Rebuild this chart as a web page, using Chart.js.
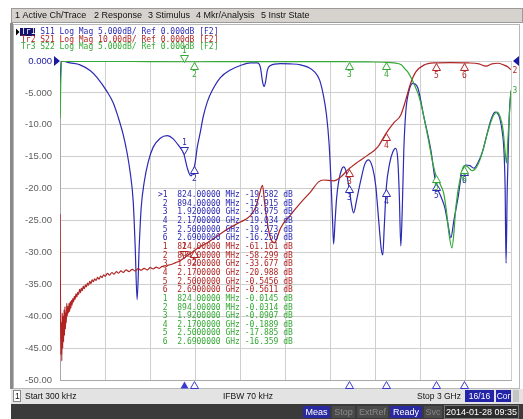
<!DOCTYPE html>
<html>
<head>
<meta charset="utf-8">
<script src="https://cdn.jsdelivr.net/npm/chart.js@4.4.1/dist/chart.umd.min.js"></script>
<style>
  html, body { margin: 0; padding: 0; background: #fff; overflow: hidden; }
  canvas { display: block; }
</style>
</head>
<body>
<canvas id="vna" width="523" height="419"></canvas>
<script>
// trace data, GHz / dB
const s11Freq = [0.0003,0.01,0.067,0.133,0.2,0.247,0.313,0.353,0.387,0.42,0.447,0.467,0.487,0.5,0.513,0.527,0.54,0.56,0.587,0.62,0.667,0.713,0.753,0.787,0.824,0.847,0.87,0.887,0.9,0.913,0.933,0.953,0.98,1.013,1.067,1.133,1.2,1.267,1.313,1.333,1.347,1.357,1.367,1.38,1.4,1.467,1.533,1.6,1.653,1.693,1.727,1.753,1.773,1.79,1.803,1.813,1.82,1.83,1.84,1.853,1.873,1.887,1.903,1.92,1.937,1.953,1.973,2.0,2.027,2.053,2.08,2.1,2.12,2.137,2.147,2.157,2.17,2.193,2.213,2.233,2.247,2.257,2.267,2.277,2.287,2.3,2.32,2.347,2.38,2.42,2.467,2.5,2.533,2.56,2.58,2.6,2.62,2.647,2.673,2.7,2.727,2.753,2.787,2.813,2.84,2.867,2.893,2.92,2.94,2.953,2.961,2.967,2.975,2.987,2.993,3.0];
const s11Db = [-3.5,0,-0.3,-0.6,-1.5,-2.6,-4.8,-6.5,-8.8,-11.5,-14.5,-17.5,-22,-29,-37.4,-29,-23,-19,-15.8,-13.5,-12.1,-11.7,-12.2,-13.2,-14.6,-16.8,-18,-17.2,-15.8,-13.5,-11.2,-8.7,-6.4,-4.6,-2.6,-1.4,-0.7,-0.3,-0.3,-1.0,-3.2,-4.0,-3.3,-1.4,-0.7,-0.4,-0.45,-0.6,-1.0,-1.7,-3.0,-5.5,-8.5,-13,-19,-25,-28.7,-25,-21.5,-19,-17,-16.6,-17.3,-19.5,-22.2,-23.8,-21.8,-18.8,-16.2,-15.5,-16.8,-19.5,-25,-29.5,-30.4,-26,-20,-16,-14.3,-13.7,-15.5,-21,-29,-23,-14,-8,-4.8,-3.5,-4.2,-8.7,-14,-19.2,-21.2,-23,-25.5,-27.7,-25,-21.5,-17.5,-16.3,-16.4,-16.8,-15.6,-14,-11.5,-9.2,-8.0,-8.6,-10.8,-14,-20,-31.7,-20,-9.5,-6.5,-4.8];

const s21Freq = [0.0003,0.003,0.006,0.009,0.012,0.015,0.018,0.021,0.024,0.027,0.03,0.033,0.036,0.039,0.042,0.045,0.048,0.052,0.056,0.06,0.064,0.068,0.072,0.076,0.08,0.085,0.09,0.095,0.1,0.106,0.112,0.118,0.124,0.13,0.136,0.142,0.148,0.155,0.162,0.169,0.176,0.183,0.19,0.198,0.206,0.214,0.222,0.23,0.24,0.25,0.26,0.27,0.28,0.29,0.3,0.315,0.33,0.345,0.36,0.375,0.39,0.405,0.42,0.44,0.46,0.48,0.5,0.52,0.54,0.56,0.58,0.6,0.62,0.64,0.66,0.68,0.7,0.72,0.74,0.77,0.8,0.824,0.86,0.894,0.94,0.98,1.03,1.087,1.14,1.2,1.267,1.3,1.32,1.347,1.36,1.38,1.4,1.427,1.447,1.467,1.533,1.6,1.667,1.72,1.753,1.82,1.867,1.913,1.98,2.047,2.113,2.17,2.22,2.267,2.3,2.333,2.367,2.42,2.487,2.6,2.713,2.787,2.833,2.873,2.913,2.953,2.98,3.0];
const s21Db = [-48,-74,-92,-82,-94,-79,-90,-80,-88,-78,-86,-77,-84,-79,-82,-76,-80,-77,-79,-76,-78.5,-75.5,-77.5,-75,-76.5,-74.5,-75.5,-73.8,-74.8,-73,-74,-72.5,-73.2,-71.6,-72.6,-71.2,-72,-70.6,-71.4,-70.2,-70.8,-69.6,-70.3,-69.1,-69.8,-68.6,-69.2,-68.3,-68.8,-67.8,-68.4,-67.4,-67.9,-67,-67.5,-66.6,-67.1,-66.3,-66.8,-66,-66.5,-65.8,-66.3,-65.5,-66,-65.3,-65.8,-65.1,-65.6,-65,-65.5,-64.8,-65.2,-64.6,-65,-64.4,-64.6,-64,-63.8,-63.2,-62.6,-61.8,-60.6,-59.4,-58,-57,-55.4,-53.5,-52,-50.5,-48.5,-46,-43,-39,-44,-51,-55.5,-57,-55,-52.4,-48.3,-44.5,-41,-37.9,-37.3,-37.6,-36.4,-34.2,-31.7,-29.5,-27,-22.6,-19.4,-16.9,-12.2,-6.9,-3.4,-1.3,-0.6,-0.5,-0.6,-0.9,-1.6,-0.9,-0.7,-1.3,-1.9,-2.8];

const s22Freq = [0.0003,0.01,0.3,0.6,0.9,1.2,1.5,1.8,1.92,2.05,2.17,2.22,2.27,2.293,2.313,2.333,2.353,2.38,2.4,2.427,2.447,2.48,2.5,2.513,2.533,2.553,2.573,2.587,2.607,2.62,2.633,2.667,2.69,2.713,2.74,2.767,2.793,2.813,2.847,2.88,2.907,2.927,2.947,2.96,2.97,2.98,2.993,3.0];
const s22Db = [-9,-0.05,-0.05,-0.1,-0.12,-0.1,-0.1,-0.1,-0.12,-0.15,-0.2,-0.3,-0.6,-1.2,-1.7,-2.5,-3.5,-5,-6.6,-9.5,-11.9,-16,-17.9,-18.6,-19.5,-20.8,-24,-27,-29.3,-27,-22.9,-17.8,-16.4,-16.6,-17.2,-16.8,-15.5,-14,-11,-8.7,-8,-8.7,-10.8,-14,-16,-12,-7,-4.6];

// markers
const markerFreq = [0.824, 0.894, 1.92, 2.17, 2.5, 2.69];
const markerFreqText = ['824.00000 MHz', '894.00000 MHz', '1.9200000 GHz', '2.1700000 GHz', '2.5000000 GHz', '2.6900000 GHz'];
const s11Markers = [-19.582, -15.915, -18.975, -19.034, -19.273, -16.250];
const s21Markers = [-61.161, -58.299, -33.677, -20.988, -0.5456, -0.5611];
const s22Markers = [-0.0145, -0.0314, -0.0907, -0.1889, -17.885, -16.359];

// header / status text
const traceIds = ['Tr1', 'Tr2', 'Tr3'];
const traceParams = ['S11', 'S21', 'S22'];
const traceScales = ['5.000dB/', '10.00dB/', '5.000dB/'];
const menuItems = ['1 Active Ch/Trace', '2 Response', '3 Stimulus', '4 Mkr/Analysis', '5 Instr State'];

const BLUE = '#2a2ab4';
const RED = '#b02424';
const GREEN = '#34a834';
const traceColors = [BLUE, RED, GREEN];

const pts = (xs, ys) => xs.map((x, i) => ({ x: x, y: ys[i] }));

function traceAt(xs, ys, f) {
  for (let i = 1; i < xs.length; i++) {
    if (xs[i] >= f) {
      const t = (f - xs[i - 1]) / (xs[i] - xs[i - 1]);
      return ys[i - 1] + t * (ys[i] - ys[i - 1]);
    }
  }
  return ys[ys.length - 1];
}

function fmtVal(v) {
  return Math.abs(v) >= 10 ? v.toFixed(3) : v.toFixed(4);
}

function tri(ctx, x, y, up, filled, color) {
  ctx.beginPath();
  if (up) { ctx.moveTo(x, y); ctx.lineTo(x - 4, y + 7); ctx.lineTo(x + 4, y + 7); }
  else { ctx.moveTo(x, y); ctx.lineTo(x - 4, y - 7); ctx.lineTo(x + 4, y - 7); }
  ctx.closePath();
  if (filled) { ctx.fillStyle = color; ctx.fill(); }
  else { ctx.fillStyle = '#fff'; ctx.fill(); ctx.strokeStyle = color; ctx.lineWidth = 1; ctx.stroke(); }
}

const chromePlugin = {
  id: 'chrome',
  beforeDraw(chart) {
    const ctx = chart.ctx;
    ctx.save();
    ctx.fillStyle = '#fff';
    ctx.fillRect(0, 0, 523, 419);
    // menu bar
    ctx.fillStyle = '#d6d3ce';
    ctx.fillRect(11, 8, 512, 15);
    ctx.strokeStyle = '#9a9a9a';
    ctx.strokeRect(11.5, 8.5, 511, 14);
    // left bar + frame
    ctx.fillStyle = '#8a8a8a';
    ctx.fillRect(10, 23, 3, 366);
    ctx.strokeStyle = '#b8b8b8';
    ctx.strokeRect(13.5, 24.5, 506, 364);
    // status row
    ctx.fillStyle = '#e3e3e3';
    ctx.fillRect(11, 389, 512, 15);
    // dark bar
    ctx.fillStyle = '#3a3a3a';
    ctx.fillRect(11, 404, 512, 15);
    ctx.restore();
  },
  afterDatasetsDraw(chart) {
    const ctx = chart.ctx;
    const xs = chart.scales.x, y = chart.scales.y, y2 = chart.scales.y2;
    const area = chart.chartArea;
    ctx.save();
    ctx.font = '8px "DejaVu Sans Mono"';
    ctx.textAlign = 'center';
    ctx.textBaseline = 'middle';
    const sets = [
      [s11Freq, s11Db, y, BLUE],
      [s21Freq, s21Db, y2, RED],
      [s22Freq, s22Db, y, GREEN]
    ];
    sets.forEach(([fx, fy, sc, col]) => {
      markerFreq.forEach((f, i) => {
        const px = Math.round(xs.getPixelForValue(f)) + 0.5;
        const py = Math.round(sc.getPixelForValue(traceAt(fx, fy, f))) + 0.5;
        const active = i === 0;
        tri(ctx, px, py, !active, false, col);
        ctx.fillStyle = col;
        ctx.fillText(String(i + 1), px, active ? py - 12 : py + 12);
      });
    });
    // marker readout table
    const rows = [[s11Markers, BLUE], [s21Markers, RED], [s22Markers, GREEN]];
    let r = 0;
    const tx = area.left + 98, ty = area.top + 134;
    ctx.textAlign = 'left';
    rows.forEach(([vals, col], k) => {
      vals.forEach((v, i) => {
        const head = (k === 0 && i === 0) ? '>' : ' ';
        const line = head + (i + 1) + '  ' + markerFreqText[i] + ' ' + fmtVal(v) + ' dB';
        ctx.fillStyle = col;
        ctx.fillText(line, tx, ty + r * 8.65);
        r++;
      });
    });
    // stimulus marker triangles under the grid
    markerFreq.forEach((f, i) => {
      const px = Math.round(xs.getPixelForValue(f)) + 0.5;
      tri(ctx, px, area.bottom + 1.5, true, i === 0, '#3a3ad0');
    });
    // reference position arrows
    const ry = y.getPixelForValue(0);
    ctx.fillStyle = '#1a1aa0';
    ctx.beginPath(); ctx.moveTo(area.left, ry); ctx.lineTo(area.left - 6, ry - 5); ctx.lineTo(area.left - 6, ry + 5); ctx.fill();
    ctx.beginPath(); ctx.moveTo(area.right + 2, ry); ctx.lineTo(area.right + 8, ry - 5); ctx.lineTo(area.right + 8, ry + 5); ctx.fill();
    ctx.fillStyle = RED;
    ctx.textAlign = 'center';
    ctx.fillText('2', area.right + 4, y2.getPixelForValue(s21Db[s21Db.length - 1]) + 1);
    ctx.fillStyle = GREEN;
    ctx.fillText('3', area.right + 4, y.getPixelForValue(s22Db[s22Db.length - 1]) + 1);
    ctx.restore();
  },
  afterDraw(chart) {
    const ctx = chart.ctx;
    ctx.save();
    ctx.textBaseline = 'middle';
    // menu
    ctx.font = '9px "Liberation Sans"';
    ctx.fillStyle = '#111';
    const menuX = [15, 94, 148, 196, 261];
    menuItems.forEach((m, i) => ctx.fillText(m, menuX[i], 15.5));
    // trace header lines
    ctx.font = '8px "DejaVu Sans Mono"';
    traceIds.forEach((id, i) => {
      const yy = 32 + i * 7.6;
      if (i === 0) {
        ctx.fillStyle = '#000';
        ctx.beginPath(); ctx.moveTo(16, yy - 3.5); ctx.lineTo(19.5, yy); ctx.lineTo(16, yy + 3.5); ctx.fill();
        ctx.fillStyle = '#141470';
        ctx.fillRect(20, yy - 4, 15, 8);
        ctx.fillStyle = '#fff';
      } else {
        ctx.fillStyle = traceColors[i];
      }
      ctx.fillText(id, 21, yy);
      ctx.fillStyle = traceColors[i];
      ctx.fillText(' ' + traceParams[i] + ' Log Mag ' + traceScales[i] + ' Ref 0.000dB [F2]', 21 + 3 * 4.82, yy);
    });
    // status row
    ctx.font = '8.5px "Liberation Sans"';
    ctx.fillStyle = '#fff';
    ctx.fillRect(13, 390, 8, 12);
    ctx.strokeStyle = '#888';
    ctx.strokeRect(13.5, 390.5, 7, 11);
    ctx.fillStyle = '#111';
    ctx.fillText('1', 15, 396.5);
    ctx.fillText('Start 300 kHz', 25, 396.5);
    ctx.fillText('IFBW 70 kHz', 223, 396.5);
    ctx.textAlign = 'right';
    ctx.fillText('Stop 3 GHz', 461, 396.5);
    ctx.fillStyle = '#2424a8';
    ctx.fillRect(465, 390, 29, 12);
    ctx.fillRect(496, 390, 15, 12);
    ctx.fillStyle = '#c4c4c4';
    ctx.fillRect(513, 390, 6, 12);
    ctx.fillStyle = '#fff';
    ctx.textAlign = 'center';
    ctx.fillText('16/16', 479.5, 396.5);
    ctx.fillText('Cor', 503.5, 396.5);
    // bottom status bar
    ctx.font = '9px "Liberation Sans"';
    const boxes = [
      ['Meas', 303, 27, true], ['Stop', 332, 23, false], ['ExtRef', 357, 31, false],
      ['Ready', 390, 32, true], ['Svc', 424, 18, false]
    ];
    boxes.forEach(([t, bx, bw, on]) => {
      ctx.fillStyle = on ? '#2a2aa0' : '#4a4a4a';
      ctx.fillRect(bx, 406, bw, 12);
      ctx.fillStyle = on ? '#fff' : '#8a8a8a';
      ctx.fillText(t, bx + bw / 2, 412.5);
    });
    ctx.fillStyle = '#2c2c2c';
    ctx.fillRect(444, 405, 75, 14);
    ctx.strokeStyle = '#777';
    ctx.strokeRect(444.5, 405.5, 74, 13);
    ctx.fillStyle = '#fff';
    ctx.fillText('2014-01-28 09:35', 481.5, 412.5);
    ctx.restore();
  }
};

const lineSet = (label, data, color, axis) => ({
  label: label,
  data: data,
  yAxisID: axis,
  borderColor: color,
  borderWidth: 1.2,
  pointRadius: 0,
  fill: false,
  cubicInterpolationMode: 'monotone'
});

const config = {
  type: 'line',
  data: {
    datasets: [
      lineSet('S22', pts(s22Freq, s22Db), GREEN, 'y'),
      lineSet('S21', pts(s21Freq, s21Db), RED, 'y2'),
      lineSet('S11', pts(s11Freq, s11Db), BLUE, 'y')
    ]
  },
  options: {
    responsive: false,
    animation: false,
    events: [],
    layout: { padding: { left: 12, top: 61, right: 12, bottom: 39 } },
    plugins: { legend: { display: false }, tooltip: { enabled: false } },
    scales: {
      x: {
        type: 'linear',
        min: 0,
        max: 3,
        ticks: { display: false, stepSize: 0.3 },
        grid: { color: '#cfcfcf', drawTicks: false },
        border: { color: '#a8a8a8' },
        afterFit(scale) { scale.height = 0; }
      },
      y: {
        min: -50,
        max: 0,
        ticks: {
          stepSize: 5,
          padding: 8,
          color: (c) => c.tick.value === 0 ? '#1a1aa0' : '#606060',
          font: { family: 'Liberation Sans', size: 9.5 },
          callback: (v) => v === 0 ? '0.000' : (Math.abs(v) < 10 ? v.toFixed(3) : v.toFixed(2))
        },
        grid: { color: '#cfcfcf', drawTicks: false },
        border: { color: '#a8a8a8' },
        afterFit(scale) { scale.width = 48; }
      },
      y2: {
        display: false,
        min: -100,
        max: 0
      }
    }
  },
  plugins: [chromePlugin]
};

new Chart(document.getElementById('vna'), config);
</script>
</body>
</html>
